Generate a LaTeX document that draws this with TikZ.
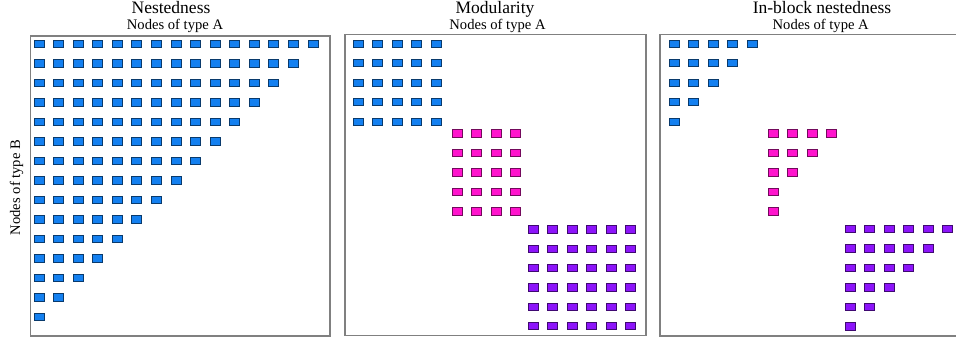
\documentclass[tikz,border=0pt]{standalone}
\usepackage{fontspec}
\setmainfont{Liberation Serif}
\usepackage{tikz}
\usetikzlibrary{positioning}

\definecolor{cellblue}{RGB}{20,128,240}
\definecolor{cellpink}{RGB}{255,20,205}
\definecolor{cellpurple}{RGB}{140,20,250}
\definecolor{framegray}{RGB}{128,128,128}

\begin{document}
\begin{tikzpicture}[x=1pt, y=-1pt,
        cell/.style={draw=#1!45!black, fill=#1, line width=0.8pt, inner sep=0pt,
            minimum width=10pt, minimum height=7.4pt},
        panel/.style={draw=framegray, line width=1.3pt},
        title/.style={anchor=base, inner sep=0pt, font=\fontsize{17.5}{20}\selectfont},
        axis/.style={anchor=base, inner sep=0pt, font=\fontsize{14.6}{17}\selectfont}]
    \useasboundingbox (0,0) rectangle (956,339);

    % frames
    \draw[panel] (30.5,36) rectangle (330,336);
    \draw[panel] (345,34.5) rectangle (646,335.5);
    \draw[panel] (957,34.5) -- (660,34.5) -- (660,336) -- (957,336);

    % titles
    \node[title] (t-nest) at (171,14) {Nestedness};
    \node[axis] (a-nest) at (175,29.3) {Nodes of type A};
    \node[title] (t-mod) at (495,14) {Modularity};
    \node[axis] (a-mod) at (497.5,29.3) {Nodes of type A};
    \node[title] (t-inb) at (822,14) {In-block nestedness};
    \node[axis] (a-inb) at (820.7,29.3) {Nodes of type A};
    \node[axis, rotate=90] (b-nest) at (20,187.5) {Nodes of type B};

    % nestedness
    \foreach \r in {0,...,14}{
        \pgfmathtruncatemacro{\last}{14-\r}
        \foreach \c in {0,...,\last}
            \node[cell=cellblue] (nest-\r-\c) at (39+19.57*\c, 44+19.5*\r) {};
    }

    % modularity
    \foreach \r in {0,...,4}
        \foreach \c in {0,...,4}
            \node[cell=cellblue] (modA-\r-\c) at (358.3+19.5*\c, 43.7+19.5*\r) {};
    \foreach \r in {0,...,4}
        \foreach \c in {0,...,3}
            \node[cell=cellpink] (modB-\r-\c) at (457.3+19.5*\c, 133.6+19.5*\r) {};
    \foreach \r in {0,...,5}
        \foreach \c in {0,...,5}
            \node[cell=cellpurple] (modC-\r-\c) at (533.3+19.5*\c, 229.4+19.35*\r) {};

    % in-block nestedness
    \foreach \r in {0,...,4}{
        \pgfmathtruncatemacro{\last}{4-\r}
        \foreach \c in {0,...,\last}
            \node[cell=cellblue] (inbA-\r-\c) at (674.3+19.5*\c, 43.7+19.5*\r) {};
    }
    \foreach \r/\last in {0/3,1/2,2/1,3/0,4/0}
        \foreach \c in {0,...,\last}
            \node[cell=cellpink] (inbB-\r-\c) at (773.3+19.5*\c, 133.6+19.5*\r) {};
    \foreach \r in {0,...,5}{
        \pgfmathtruncatemacro{\last}{5-\r}
        \foreach \c in {0,...,\last}
            \node[cell=cellpurple] (inbC-\r-\c) at (850+19.5*\c, 229+19.45*\r) {};
    }
\end{tikzpicture}
\end{document}
